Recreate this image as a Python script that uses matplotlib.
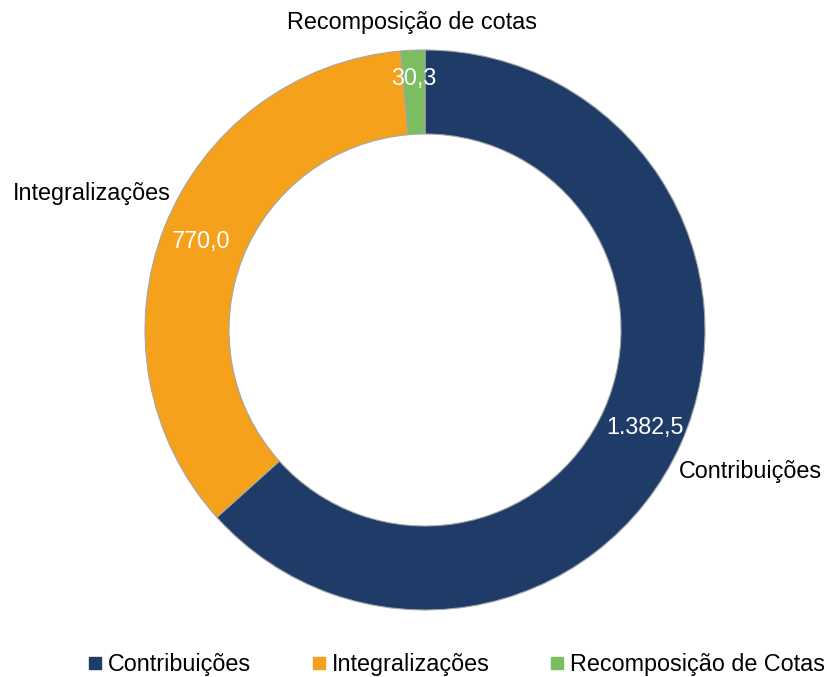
import numpy as np
import matplotlib.pyplot as plt
from matplotlib.lines import Line2D

plt.rcParams['font.family'] = ['Liberation Sans', 'DejaVu Sans']

# Data
categories = ['Contribuições', 'Integralizações', 'Recomposição de cotas']
legend_labels = ['Contribuições', 'Integralizações', 'Recomposição de Cotas']
values = [1382.5, 770.0, 30.3]
value_labels = ['1.382,5', '770,0', '30,3']
colors = ['#1F3C69', '#F5A11B', '#7DBD62']

W, H = 827, 677
cx, cy, R = 425, 330, 280  # pixel centre / radius of the ring

fig = plt.figure(figsize=(W / 100, H / 100), dpi=100)
ax = fig.add_axes([0, 0, 1, 1])

wedges, _ = ax.pie(values, colors=colors, startangle=90, counterclock=False,
                   radius=1.0, wedgeprops=dict(width=0.3, edgecolor='#A6A6A6', linewidth=0.8))

ax.set_xlim(-cx / R, (W - cx) / R)
ax.set_ylim(-(H - cy) / R, cy / R)
ax.set_aspect('equal')
ax.axis('off')

fs = 16.8
for w, cat, vl in zip(wedges, categories, value_labels):
    mid = np.deg2rad((w.theta1 + w.theta2) / 2)
    c, s = np.cos(mid), np.sin(mid)
    # value inside the ring
    rv = 0.86 if abs(c) > 0.2 else 0.9
    ax.text(rv * c, rv * s, vl, color='white', fontsize=fs, ha='center', va='center')
    # category outside the ring
    if abs(c) < 0.2:
        ax.text(1.1 * c, 1.1 * s, cat, fontsize=fs, ha='center', va='center')
    elif c < 0:
        ax.text(1.04 * c + 0.06, 1.04 * s + 0.065, cat, fontsize=fs, ha='right', va='bottom')
    else:
        ax.text(1.04 * c - 0.045, 1.04 * s - 0.04, cat, fontsize=fs, ha='left', va='top')

handles = [Line2D([], [], marker='s', linestyle='none', markersize=9, color=col)
           for col in colors]
fig.legend(handles, legend_labels, loc='lower center', bbox_to_anchor=(0.552, -0.03),
           ncol=3, frameon=False, fontsize=fs, handlelength=0.6, handletextpad=0.25,
           columnspacing=2.6)

fig.savefig('out.png', dpi=100)
